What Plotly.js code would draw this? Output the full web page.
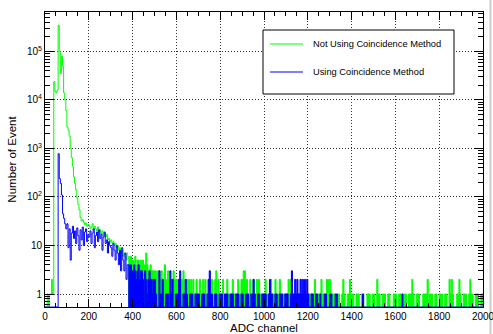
<!DOCTYPE html>
<html>
<head>
<meta charset="utf-8">
<script src="https://cdn.plot.ly/plotly-3.0.1.min.js"></script>
<style>
  html, body { margin: 0; padding: 0; background: #ffffff; }
  #chart { width: 493px; height: 334px; }
</style>
</head>
<body>
<div id="chart"></div>
<script>
// ADC spectrum, 5-channel bins from 0 to 2000
const binWidth = 5;
const adcMin = 0;
const adcMax = 2000;

const seriesNames = ['Not Using Coincidence Method', 'Using Coincidence Method'];
const seriesColors = ['#00ff00', '#0000ff'];

// counts per bin, without coincidence requirement
const countsNoCoinc = [
  0,0,1,0,1,1,2,1,24000,15000,14000,16000,350000,100000,35000,80000,50000,14000,10000,6000,
  2800,2400,1800,1000,650,420,260,190,140,95,70,55,38,32,34,30,27,29,25,27,
  26,22,24,28,21,25,22,20,24,19,21,17,20,16,18,15,17,13,14,12,
  13,11,12,10,11,9,10,8,9,7,8,6,7,6,5,7,6,5,6,5,
  5,4,6,4,5,5,4,5,4,5,4,4,7,4,3,3,4,3,3,3,
  3,2,3,2,3,2,3,2,2,4,2,1,3,2,2,2,1,3,2,2,
  2,1,2,2,1,2,3,1,2,1,2,2,1,2,1,2,1,1,2,1,
  1,2,1,1,2,1,2,1,1,2,1,1,2,1,1,2,3,1,2,1,
  1,1,2,1,1,1,2,1,1,1,1,2,1,1,1,1,2,1,1,2,
  2,3,3,1,2,1,1,2,1,1,2,1,1,2,1,2,1,1,1,1,
  1,2,1,1,1,1,2,1,1,1,2,1,1,1,2,1,1,1,1,1,
  1,1,2,1,2,2,1,1,1,1,1,1,1,2,1,1,1,1,1,1,
  1,1,1,1,1,1,2,1,1,1,1,1,2,1,1,1,1,2,2,1,
  2,1,1,1,1,0,0,1,1,0,0,1,2,1,0,0,1,1,2,1,
  1,1,0,0,1,1,1,0,0,1,1,0,0,0,1,1,1,0,0,1,
  1,0,0,2,1,1,0,0,1,1,1,0,0,1,1,0,0,0,1,1,
  1,0,0,1,1,1,0,0,1,1,0,0,1,1,1,2,1,0,0,1,
  1,1,0,0,0,1,1,1,1,2,0,1,1,1,0,0,1,1,0,0,
  1,1,1,0,0,1,1,0,0,2,1,2,1,0,0,0,1,1,2,1,
  0,0,1,1,1,0,0,1,2,1,1,0,0,1,1,1,0,0,1,1
];

// counts per bin, with coincidence requirement
const countsCoinc = [
  0,0,0,0,0,0,0,0,0,0,0,0,780,240,190,110,45,36,28,22,
  28,9,22,5,18,25,14,20,11,23,16,8,21,13,24,10,19,22,12,17,
  15,20,11,18,22,9,16,19,12,21,14,17,8,15,19,11,13,7,12,10,
  9,6,11,8,5,10,7,4,8,3,9,5,3,7,2,4,4,3,4,3,
  3,4,3,2,3,4,2,3,3,2,0,3,2,1,2,3,2,2,1,2,
  2,1,0,0,3,1,1,2,0,0,1,1,1,0,3,1,2,0,0,1,
  1,1,2,3,0,0,1,1,2,1,0,0,1,1,1,0,0,1,1,1,
  1,0,0,1,1,1,0,0,1,2,3,1,1,0,0,1,1,0,0,1,
  1,1,0,0,1,1,1,0,0,1,1,1,0,0,1,1,1,0,0,1,
  1,0,0,1,1,1,0,0,1,1,2,1,0,0,1,1,0,0,1,1,
  1,1,0,0,1,2,1,1,0,0,1,1,0,0,1,1,1,0,0,1,
  1,1,0,0,1,3,1,1,2,1,2,1,1,2,1,2,1,2,1,2,
  1,0,0,1,1,0,0,1,1,0,0,1,0,0,0,1,1,0,0,0,
  1,1,0,0,0,1,1,0,0,0,0,0,0,0,0,0,0,0,0,0,
  0,0,0,0,0,0,0,0,0,0,1,0,0,0,0,0,0,0,0,0,
  0,0,0,0,0,0,0,0,0,0,0,0,0,0,0,0,0,0,0,0,
  0,0,0,0,0,0,1,0,0,0,0,0,0,0,0,0,0,0,0,0,
  0,0,0,0,0,0,0,0,0,0,0,0,0,0,0,0,0,0,0,0,
  0,0,0,0,0,0,0,0,0,0,0,0,0,0,0,0,0,0,0,0,
  0,0,0,0,0,0,0,0,0,0,0,0,0,0,0,0,0,0,0,0
];

const xTickVals = [0, 200, 400, 600, 800, 1000, 1200, 1400, 1600, 1800, 2000];
const yTickVals = [1, 10, 100, 1000, 10000, 100000];
const yTickText = ['1', '10', '10<sup>2</sup>', '10<sup>3</sup>', '10<sup>4</sup>', '10<sup>5</sup>'];

// log10 range of the count axis
const yLogRange = [-0.268, 5.814];

// empty bins are drawn down to the bottom of the frame, as in a ROOT histogram
const frameFloor = Math.pow(10, yLogRange[0]);

// above this ADC value the low-count bins are so dense that the histogram reads as a solid band
const denseFrom = 380;

function stepTrace(counts, name, color, fromBin, toBin, filled) {
  const edges = [];
  const ys = [];
  for (let i = fromBin; i <= toBin; i++) {
    edges.push(adcMin + i * binWidth);
    const c = counts[Math.min(i, toBin - 1)];
    ys.push(c > 0 ? c : frameFloor);
  }
  const t = {
    type: 'scatter',
    mode: 'lines',
    name: name,
    x: edges,
    y: ys,
    line: { shape: 'hv', color: color, width: 1, simplify: false },
    showlegend: false,
    hoverinfo: 'skip'
  };
  if (filled) {
    t.fill = 'tozeroy';
    t.fillcolor = color;
  }
  return t;
}

function histogramTraces(counts, name, color) {
  const split = Math.round((denseFrom - adcMin) / binWidth);
  return [
    stepTrace(counts, name, color, 0, split, false),
    stepTrace(counts, name, color, split, counts.length, true)
  ];
}

// minor ticks on the log axis: 2..9 of each decade
const yMinorVals = [];
for (let k = -1; k <= 5; k++) {
  for (let m = 2; m <= 9; m++) {
    const v = m * Math.pow(10, k);
    const lv = Math.log10(v);
    if (lv > yLogRange[0] && lv < yLogRange[1]) yMinorVals.push(v);
  }
}

const traces = [].concat(
  histogramTraces(countsNoCoinc, seriesNames[0], seriesColors[0]),
  histogramTraces(countsCoinc, seriesNames[1], seriesColors[1])
);

// frame geometry (px) used to place the legend box
const M = { l: 45, r: 10, t: 12, b: 27 };
const W = 493, H = 334;
const plotW = W - M.l - M.r, plotH = H - M.t - M.b;
const px = x => (x - M.l) / plotW;
const py = y => (H - M.b - y) / plotH;

const legendBox = { x0: 263, x1: 454, y0: 30, y1: 94 };
const legendRows = [44, 72];
const legendLine = { x0: 270, x1: 303 };
const legendTextX = 311;

const shapes = [
  { type: 'rect', xref: 'paper', yref: 'paper',
    x0: px(legendBox.x0), x1: px(legendBox.x1), y0: py(legendBox.y1), y1: py(legendBox.y0),
    line: { color: '#000000', width: 1 }, fillcolor: '#ffffff', layer: 'above' },
  // right edge of the canvas
  { type: 'line', xref: 'paper', yref: 'paper',
    x0: px(490.5), x1: px(490.5), y0: py(H), y1: py(0),
    line: { color: '#cccccc', width: 2 }, layer: 'below' }
];
const annotations = [];
legendRows.forEach((row, i) => {
  shapes.push({ type: 'line', xref: 'paper', yref: 'paper',
    x0: px(legendLine.x0), x1: px(legendLine.x1), y0: py(row), y1: py(row),
    line: { color: seriesColors[i], width: 1 }, layer: 'above' });
  annotations.push({ xref: 'paper', yref: 'paper', x: px(legendTextX), y: py(row),
    xanchor: 'left', yanchor: 'middle', showarrow: false, text: seriesNames[i],
    font: { size: 9.3, color: '#000000' } });
});

const gridStyle = { showgrid: true, gridcolor: '#333333', gridwidth: 1, griddash: '1px,2px' };

const layout = {
  width: W, height: H,
  margin: M,
  paper_bgcolor: '#ffffff',
  plot_bgcolor: '#ffffff',
  font: { family: 'Liberation Sans, Arial, Helvetica, sans-serif', color: '#000000', size: 10 },
  showlegend: false,
  xaxis: Object.assign({
    range: [adcMin, adcMax],
    tickmode: 'array', tickvals: xTickVals,
    ticks: 'inside', ticklen: 8, tickwidth: 1, tickcolor: '#000000',
    minor: { dtick: 50, tick0: 0, ticks: 'inside', ticklen: 4, tickcolor: '#000000', showgrid: false },
    showline: true, linecolor: '#000000', linewidth: 1, mirror: 'allticks',
    zeroline: false,
    ticklabeloverflow: 'allow',
    tickfont: { size: 10 },
    title: { text: 'ADC channel', font: { size: 11.5 }, standoff: 5 }
  }, gridStyle),
  yaxis: Object.assign({
    type: 'log',
    range: yLogRange,
    tickmode: 'array', tickvals: yTickVals, ticktext: yTickText,
    ticks: 'inside', ticklen: 9, tickwidth: 1, tickcolor: '#000000',
    minor: { tickmode: 'array', tickvals: yMinorVals, ticks: 'inside', ticklen: 5, tickcolor: '#000000', showgrid: false },
    showline: true, linecolor: '#000000', linewidth: 1, mirror: 'allticks',
    zeroline: false,
    ticklabeloverflow: 'allow',
    tickfont: { size: 10 },
    title: { text: 'Number of Event', font: { size: 11.5 }, standoff: 7 }
  }, gridStyle),
  shapes: shapes,
  annotations: annotations
};

Plotly.newPlot('chart', traces, layout, { displayModeBar: false, staticPlot: true });
</script>
</body>
</html>
